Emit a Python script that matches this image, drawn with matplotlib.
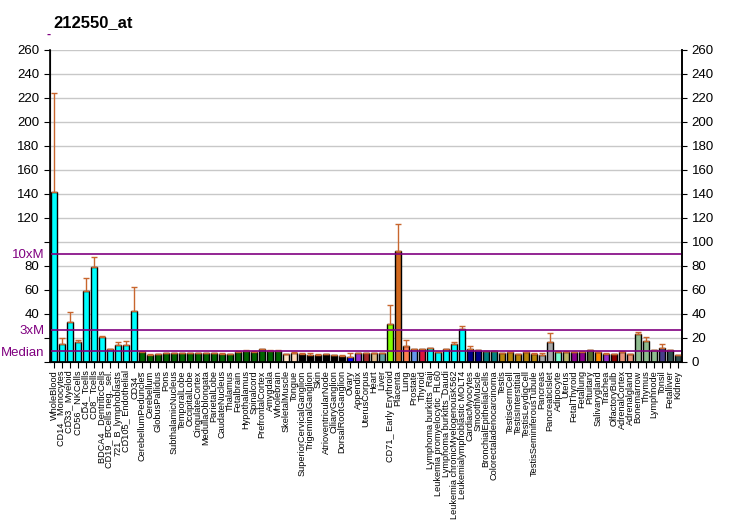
import matplotlib
matplotlib.use('Agg')
import matplotlib.pyplot as plt
import numpy as np

plt.rcParams['font.family'] = ['Liberation Sans', 'DejaVu Sans']

title = "212550_at"

tissues = [
    "WholeBlood", "CD14_ Monocytes", "CD33_ Myeloid", "CD56_ NKCells", "CD4_ Tcells",
    "CD8_ Tcells", "BDCA4_ DentriticCells", "CD19_ BCells neg._sel.", "721_B_lymphoblasts",
    "CD105_ Endothelial", "CD34_", "CerebellumPeduncles", "Cerebellum", "GlobusPallidus",
    "Pons", "SubthalamicNucleus", "TemporalLobe", "OccipitalLobe", "CingulateCortex",
    "MedullaOblongata", "ParietalLobe", "CaudateNucleus", "Thalamus", "Fetalbrain",
    "Hypothalamus", "Spinalcord", "PrefrontalCortex", "Amygdala", "Wholebrain",
    "SkeletalMuscle", "Tongue", "SuperiorCervicalGanglion", "TrigeminalGanglion", "Skin",
    "AtrioventricularNode", "CiliaryGanglion", "DorsalRootGanglion", "Ovary", "Appendix",
    "UterusCorpus", "Heart", "Liver", "CD71_ Early Erythroid", "Placenta", "Lung",
    "Prostate", "Thyroid", "Lymphoma burkitts_Raji", "Leukemia promyelocytic_HL60",
    "Lymphoma burkitts_Daudi", "Leukemia chronicMyelogenousK562",
    "Leukemialymphoblastic MOLT4", "CardiacMyocytes", "SmoothMuscle",
    "BronchialEpithelialCells", "Colorectaladenocarcinoma", "Testis", "TestisGermCell",
    "TestisInterstitial", "TestisLeydigCell", "TestisSeminiferousTubule", "Pancreas",
    "PancreaticIslet", "Adipocyte", "Uterus", "FetalThyroid", "Fetallung", "Pituitary",
    "Salivarygland", "Trachea", "OlfactoryBulb", "AdrenalCortex", "Adrenalgland",
    "Bonemarrow", "Thymus", "Lymphnode", "Tonsil", "Fetalliver", "Kidney",
]

values = [
    142, 15, 33, 16.4, 59, 79, 20.8, 10.5, 14.2, 14.2, 42.2,
    8.3, 5.8, 6.7, 7.5, 7.5, 7.5, 7.5, 7.5, 7.5, 7.6, 6.7, 6.7, 8.5,
    9.2, 8.6, 10.8, 9.4, 9.2, 6.7, 7.8, 6.7, 5.8, 6.1, 6.7, 5.8, 5.3,
    4.4, 7.2, 7.2, 7.2, 7.5, 31.4, 92.2, 13, 10.5, 10.5, 11.4, 8.1, 10.5,
    14.7, 27.2, 10.5, 9.7, 8.9, 8.9, 7.2, 8.1, 6.4, 8.1, 6.4, 5.6, 16.4,
    8.6, 8.6, 8.6, 8.6, 9.7, 8.1, 6.9, 6.7, 8.1, 6.7, 23.1, 17.5, 9.7,
    11.4, 9.7, 5.8,
]

err_top = [
    224, 19.7, 41.4, 18.3, 69.7, 87.2, 21.7, 10.5, 16.4, 17.2, 62.2,
    8.9, 6.4, 6.7, 7.5, 7.5, 7.5, 7.5, 7.5, 7.5, 7.6, 7.8, 6.7, 9.2,
    10.0, 8.9, 10.8, 10.0, 10.0, 6.7, 8.1, 7.8, 7.2, 6.7, 6.7, 5.8, 5.8,
    7.2, 7.2, 7.2, 7.2, 7.5, 47.2, 115, 18, 10.5, 10.5, 11.4, 8.1, 10.5,
    16.4, 29.7, 13, 9.7, 8.9, 8.9, 7.2, 8.1, 6.4, 8.1, 7.2, 7.2, 23.9,
    8.9, 8.9, 8.6, 8.9, 9.7, 8.1, 7.8, 6.7, 8.9, 6.7, 25.3, 20.5, 9.7,
    15, 9.7, 5.8,
]

colors = (
    ["#00FFFF"] * 11 + ["#006400"] * 18 + ["#FFE4C4", "#FFDAB9"] + ["#000000"] * 6
    + ["#0000FF", "#9932CC", "#A52A2A", "#DEB887", "#5F9EA0", "#7FFF00", "#D2691E",
       "#FF7F50", "#6495ED", "#DC143C"]
    + ["#00FFFF"] * 5 + ["#00008B"] * 2 + ["#008080"] * 2 + ["#B8860B"] * 5
    + ["#A9A9A9"] * 2 + ["#7FFFD4", "#BDB76B", "#8B008B", "#8B008B", "#556B2F",
                         "#FF8C00", "#9932CC", "#8B0000", "#E9967A", "#E9967A"]
    + ["#8FBC8F"] * 3 + ["#483D8B", "#2F4F4F", "#2F4F4F"]
)

median = 9.0
yticks = list(range(0, 261, 20))

fig = plt.figure(figsize=(7.32, 5.30), dpi=100)
ax = fig.add_axes([0.0683, 0.317, 0.8634, 0.5887])

x = np.arange(len(values))
vals = np.array(values)
errs = np.array(err_top) - vals

for y in yticks[1:]:
    ax.axhline(y, color="#C8C8C8", lw=1, zorder=0)

ax.bar(x, vals, width=0.8, color=colors, edgecolor="black", linewidth=1, zorder=2)
ax.errorbar(x, vals, yerr=[np.zeros_like(errs), errs], fmt="none",
            ecolor="#C8662E", elinewidth=1, capsize=2.5, capthick=1, zorder=3)

purple = "#800080"
for lvl in (median, 3 * median, 10 * median):
    ax.axhline(lvl, color=purple, lw=1.2, zorder=4)

ax.set_xlim(-0.5, len(values) - 0.5)
ax.set_ylim(0, 260)

left_labels = []
for t in yticks:
    left_labels.append("" if t in (0, 20, 100) else str(t))
ax.set_yticks(yticks)
ax.set_yticklabels(left_labels, fontsize=9.5)
ax.set_yticks([median, 3 * median, 10 * median], minor=True)
ax.set_yticklabels(["Median", "3xM", "10xM"], minor=True, fontsize=9.5, color=purple)
ax.tick_params(axis="y", which="minor", length=0, pad=4)
ax.tick_params(axis="y", which="major", length=4, direction="out")

ax.set_xticks(x)
ax.set_xticklabels(tissues, rotation=90, fontsize=6.6)
ax.tick_params(axis="x", length=4, pad=2)

ax.spines["top"].set_visible(False)
for s in ("left", "right", "bottom"):
    ax.spines[s].set_linewidth(1.2)

ax2 = ax.twinx()
ax2.set_ylim(0, 260)
ax2.set_yticks(yticks)
ax2.set_yticklabels([str(t) for t in yticks], fontsize=9.5)
ax2.spines["top"].set_visible(False)
ax2.spines["right"].set_linewidth(1.2)

fig.text(0.073, 0.948, title, fontsize=12, fontweight="bold")
fig.text(0.063, 0.928, "-", fontsize=9, color=purple, fontweight="bold")

fig.savefig("out.png", dpi=100)
